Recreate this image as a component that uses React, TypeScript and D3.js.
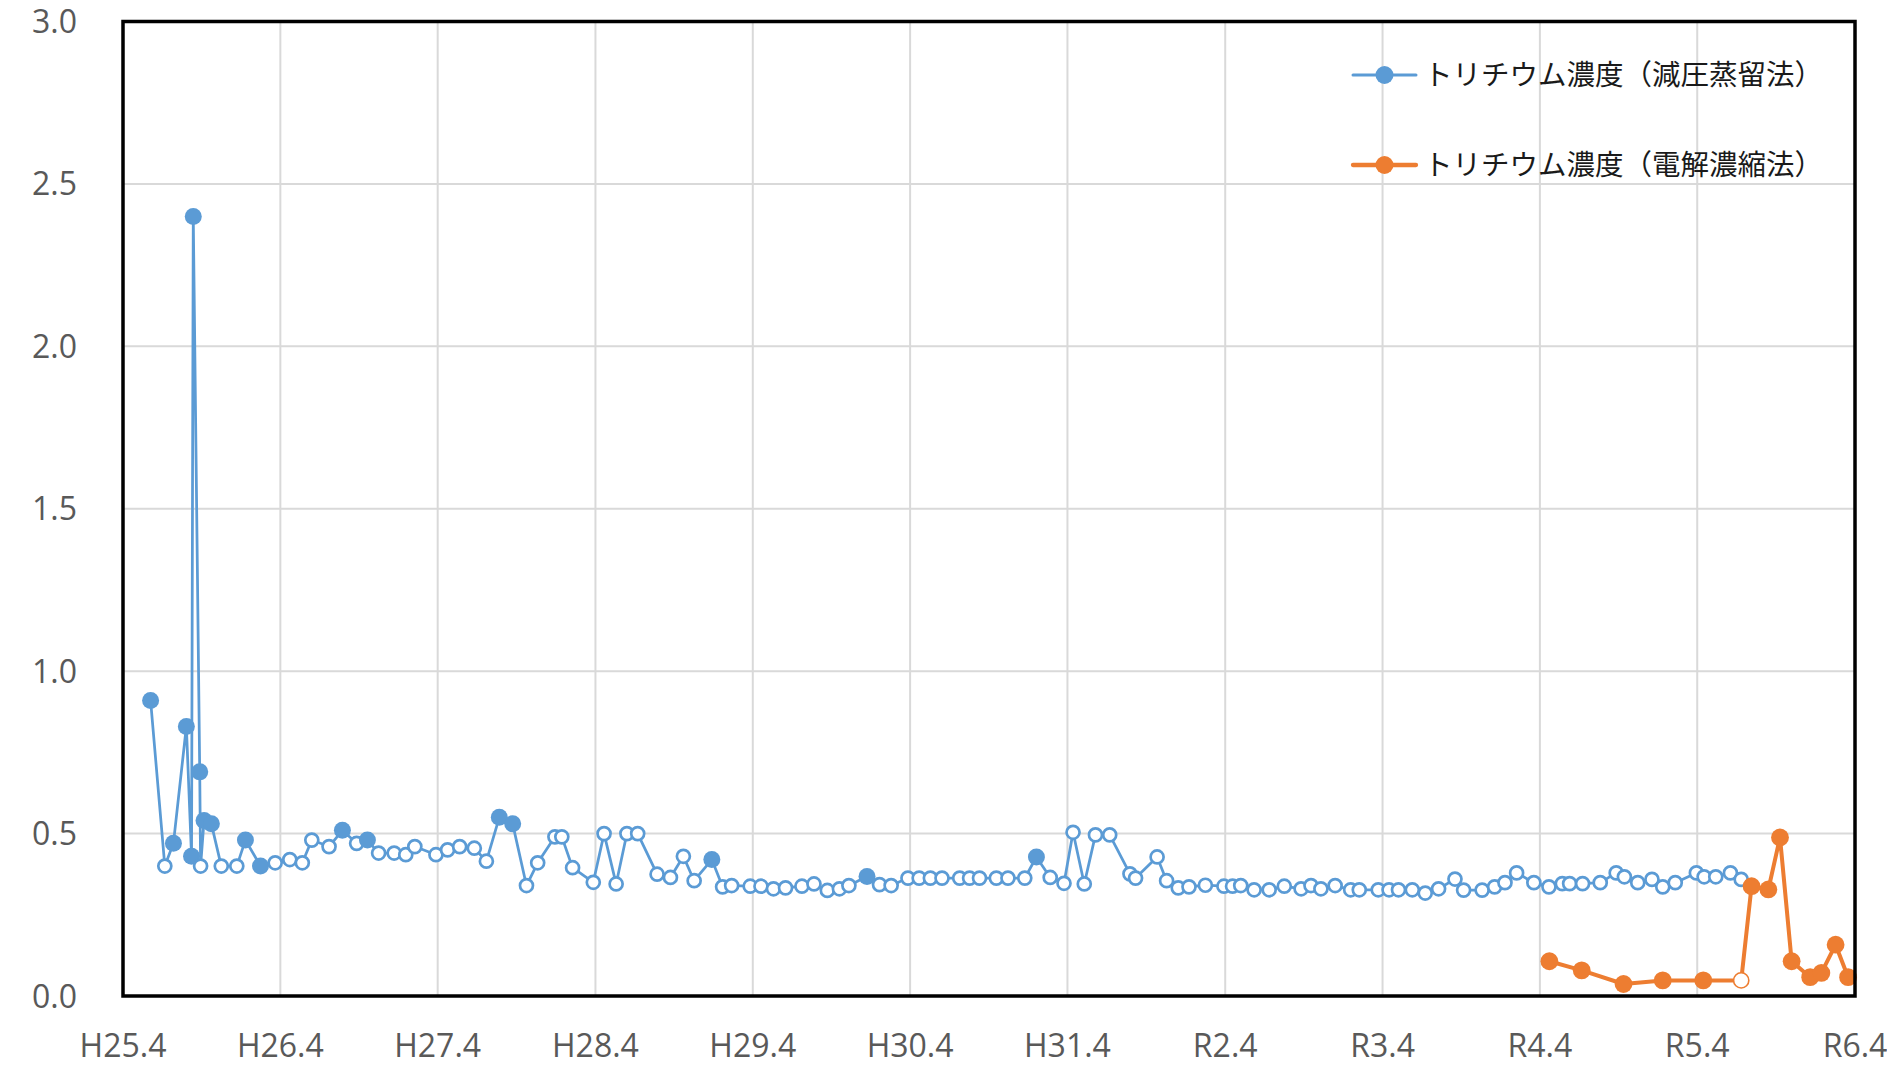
import { useEffect, useRef } from 'react';
import * as d3 from 'd3';

const W = 1887;
const H = 1065;

const xTickDates = [
  '2013-04-01', '2014-04-01', '2015-04-01', '2016-04-01', '2017-04-01', '2018-04-01',
  '2019-04-01', '2020-04-01', '2021-04-01', '2022-04-01', '2023-04-01', '2024-04-01',
];
const xTickLabels = ['H25.4', 'H26.4', 'H27.4', 'H28.4', 'H29.4', 'H30.4', 'H31.4', 'R2.4', 'R3.4', 'R4.4', 'R5.4', 'R6.4'];
const yTicks = [0, 0.5, 1, 1.5, 2, 2.5, 3];

const seriesNames = ['トリチウム濃度（減圧蒸留法）', 'トリチウム濃度（電解濃縮法）'];

// 減圧蒸留法
const vacuumDates = [
  '2013-06-04', '2013-07-07', '2013-07-27', '2013-08-26', '2013-09-07', '2013-09-11', '2013-09-26', '2013-09-28', '2013-10-06', '2013-10-23',
  '2013-11-15', '2013-12-21', '2014-01-10', '2014-02-14', '2014-03-20', '2014-04-23', '2014-05-22', '2014-06-13', '2014-07-23', '2014-08-23',
  '2014-09-25', '2014-10-20', '2014-11-15', '2014-12-21', '2015-01-17', '2015-02-07', '2015-03-28', '2015-04-24', '2015-05-22', '2015-06-25',
  '2015-07-23', '2015-08-22', '2015-09-22', '2015-10-24', '2015-11-19', '2015-12-29', '2016-01-14', '2016-02-08', '2016-03-27', '2016-04-21',
  '2016-05-19', '2016-06-13', '2016-07-08', '2016-08-22', '2016-09-22', '2016-10-22', '2016-11-16', '2016-12-27', '2017-01-21', '2017-02-11',
  '2017-03-26', '2017-04-20', '2017-05-19', '2017-06-16', '2017-07-24', '2017-08-21', '2017-09-21', '2017-10-19', '2017-11-10', '2017-12-22',
  '2018-01-20', '2018-02-16', '2018-03-27', '2018-04-22', '2018-05-18', '2018-06-14', '2018-07-25', '2018-08-17', '2018-09-09', '2018-10-18',
  '2018-11-14', '2018-12-23', '2019-01-19', '2019-02-20', '2019-03-24', '2019-04-14', '2019-05-10', '2019-06-05', '2019-07-08', '2019-08-24',
  '2019-09-06', '2019-10-26', '2019-11-17', '2019-12-14', '2020-01-08', '2020-02-15', '2020-03-29', '2020-04-18', '2020-05-07', '2020-06-07',
  '2020-07-12', '2020-08-16', '2020-09-24', '2020-10-17', '2020-11-09', '2020-12-12', '2021-01-17', '2021-02-06', '2021-03-22', '2021-04-16',
  '2021-05-08', '2021-06-09', '2021-07-09', '2021-08-09', '2021-09-16', '2021-10-06', '2021-11-18', '2021-12-17', '2022-01-10', '2022-02-06',
  '2022-03-18', '2022-04-22', '2022-05-23', '2022-06-09', '2022-07-09', '2022-08-19', '2022-09-25', '2022-10-14', '2022-11-14', '2022-12-17',
  '2023-01-11', '2023-02-09', '2023-03-30', '2023-04-17', '2023-05-14', '2023-06-17', '2023-07-12',
];
const vacuumValues = [
  0.91, 0.40, 0.47, 0.83, 0.43, 2.40, 0.69, 0.40, 0.54, 0.53,
  0.40, 0.40, 0.48, 0.40, 0.41, 0.42, 0.41, 0.48, 0.46, 0.51,
  0.47, 0.48, 0.44, 0.44, 0.435, 0.46, 0.435, 0.45, 0.46, 0.455,
  0.415, 0.55, 0.53, 0.34, 0.41, 0.49, 0.49, 0.395, 0.35, 0.50,
  0.345, 0.50, 0.50, 0.375, 0.365, 0.43, 0.355, 0.42, 0.336, 0.34,
  0.338, 0.338, 0.33, 0.333, 0.338, 0.345, 0.325, 0.33, 0.34, 0.368,
  0.343, 0.34, 0.363, 0.363, 0.363, 0.363, 0.363, 0.363, 0.363, 0.363,
  0.363, 0.363, 0.428, 0.365, 0.347, 0.504, 0.345, 0.496, 0.496, 0.376,
  0.363, 0.428, 0.355, 0.333, 0.336, 0.341, 0.338, 0.338, 0.34, 0.327,
  0.327, 0.338, 0.33, 0.34, 0.33, 0.34, 0.327, 0.327, 0.327, 0.327,
  0.327, 0.327, 0.317, 0.33, 0.36, 0.326, 0.326, 0.336, 0.349, 0.379,
  0.349, 0.336, 0.346, 0.346, 0.346, 0.349, 0.379, 0.367, 0.349, 0.359,
  0.336, 0.349, 0.379, 0.367, 0.367, 0.379, 0.359,
];
// indexes of samples above the detection limit (filled markers); the rest are hollow
const vacuumDetected = [0, 2, 3, 4, 5, 6, 8, 9, 12, 13, 19, 21, 31, 32, 47, 59, 72];

// 電解濃縮法
const electroDates = [
  '2022-04-23', '2022-07-07', '2022-10-12', '2023-01-11', '2023-04-15', '2023-07-12', '2023-08-05',
  '2023-09-13', '2023-10-10', '2023-11-06', '2023-12-19', '2024-01-14', '2024-02-16', '2024-03-16',
];
const electroValues = [0.107, 0.079, 0.037, 0.048, 0.048, 0.048, 0.338, 0.328, 0.488, 0.107, 0.058, 0.071, 0.158, 0.058];
const electroDetected = [0, 1, 2, 3, 4, 6, 7, 8, 9, 10, 11, 12, 13];

const BLUE = '#5B9BD5';
const ORANGE = '#ED7D31';

const App = () => {
  const svgRef = useRef<SVGSVGElement>(null);

  useEffect(() => {
    const svg = d3.select(svgRef.current);
    svg.selectAll('*').remove();

    const margin = { top: 21.5, right: 32, bottom: 69, left: 123 };
    const x0 = margin.left;
    const x1 = W - margin.right;
    const y0 = margin.top;
    const y1 = H - margin.bottom;

    const parse = d3.utcParse('%Y-%m-%d');
    const ticks = xTickDates.map((d) => parse(d) as Date);

    const x = d3.scaleUtc().domain([ticks[0], ticks[ticks.length - 1]]).range([x0, x1]);
    const y = d3.scaleLinear().domain([0, 3]).range([y1, y0]);

    // grid
    svg
      .append('g')
      .selectAll('line')
      .data(yTicks.slice(1))
      .enter()
      .append('line')
      .attr('x1', x0)
      .attr('x2', x1)
      .attr('y1', (d) => y(d))
      .attr('y2', (d) => y(d))
      .attr('stroke', '#D9D9D9')
      .attr('stroke-width', 2);

    svg
      .append('g')
      .selectAll('line')
      .data(ticks.slice(1))
      .enter()
      .append('line')
      .attr('x1', (d) => x(d))
      .attr('x2', (d) => x(d))
      .attr('y1', y0)
      .attr('y2', y1)
      .attr('stroke', '#D9D9D9')
      .attr('stroke-width', 2);

    // tick labels
    svg
      .append('g')
      .selectAll('text')
      .data(yTicks)
      .enter()
      .append('text')
      .attr('x', 77)
      .attr('y', (d) => y(d))
      .attr('dy', '0.36em')
      .attr('text-anchor', 'end')
      .style('font-family', '"Open Sans", "Noto Sans", sans-serif')
      .style('font-size', '32px')
      .style('fill', '#595959')
      .text((d) => d.toFixed(1));

    svg
      .append('g')
      .selectAll('text')
      .data(ticks)
      .enter()
      .append('text')
      .attr('x', (d) => x(d))
      .attr('y', 1057)
      .attr('text-anchor', 'middle')
      .style('font-family', '"Open Sans", "Noto Sans", sans-serif')
      .style('font-size', '32px')
      .style('fill', '#595959')
      .text((d, i) => xTickLabels[i]);

    const drawSeries = (
      dates: string[],
      values: number[],
      detected: number[],
      color: string,
      lineWidth: number,
      rFilled: number,
      rHollow: number,
      hollowStroke: number,
    ) => {
      const pts = dates.map((d, i) => ({ date: parse(d) as Date, v: values[i], on: detected.includes(i) }));
      const line = d3
        .line<{ date: Date; v: number }>()
        .x((d) => x(d.date))
        .y((d) => y(d.v));
      const g = svg.append('g');
      g.append('path')
        .datum(pts)
        .attr('d', line)
        .attr('fill', 'none')
        .attr('stroke', color)
        .attr('stroke-width', lineWidth)
        .attr('stroke-linejoin', 'round');
      g.selectAll('circle')
        .data(pts)
        .enter()
        .append('circle')
        .attr('cx', (d) => x(d.date))
        .attr('cy', (d) => y(d.v))
        .attr('r', (d) => (d.on ? rFilled : rHollow))
        .attr('fill', (d) => (d.on ? color : '#FFFFFF'))
        .attr('stroke', color)
        .attr('stroke-width', (d) => (d.on ? 0 : hollowStroke));
    };

    drawSeries(vacuumDates, vacuumValues, vacuumDetected, BLUE, 2.75, 8.5, 6.5, 2.7);
    drawSeries(electroDates, electroValues, electroDetected, ORANGE, 4, 8.9, 7.6, 1.6);

    // plot frame
    svg
      .append('rect')
      .attr('x', x0)
      .attr('y', y0)
      .attr('width', x1 - x0)
      .attr('height', y1 - y0)
      .attr('fill', 'none')
      .attr('stroke', '#000')
      .attr('stroke-width', 3.5);

    // legend
    const legend = svg
      .append('g')
      .selectAll('g')
      .data(seriesNames)
      .enter()
      .append('g')
      .attr('transform', (d, i) => `translate(1353, ${75 + i * 90})`);

    legend
      .append('line')
      .attr('x1', 0)
      .attr('x2', 63)
      .attr('stroke', (d, i) => (i === 0 ? BLUE : ORANGE))
      .attr('stroke-width', (d, i) => (i === 0 ? 3 : 4.3))
      .attr('stroke-linecap', 'round');

    legend
      .append('circle')
      .attr('cx', 31.5)
      .attr('r', 9)
      .attr('fill', (d, i) => (i === 0 ? BLUE : ORANGE));

    legend
      .append('text')
      .attr('x', 71)
      .attr('dy', '0.36em')
      .style('font-family', '"Noto Sans CJK JP", sans-serif')
      .style('font-size', '28.5px')
      .style('fill', '#1a1a1a')
      .text((d) => d);
  }, []);

  return (
    <div style={{ position: 'absolute', left: 0, top: 0, background: '#fff' }}>
      <svg ref={svgRef} width={W} height={H} style={{ display: 'block' }}></svg>
    </div>
  );
};

export default App;
